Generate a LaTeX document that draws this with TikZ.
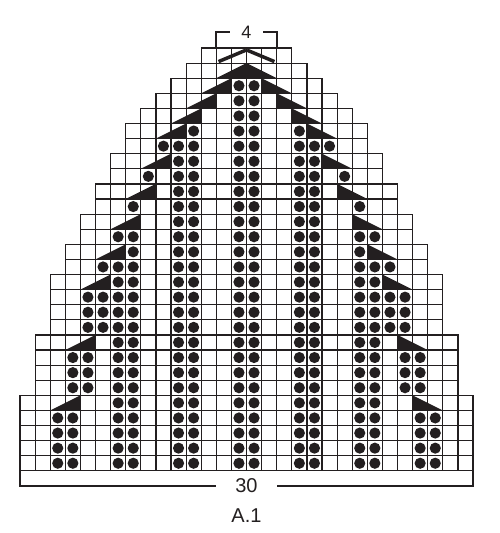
\documentclass[tikz,border=0pt]{standalone}
\usepackage{fontspec}
\setmainfont{Liberation Sans}
\usepackage{tikz}
\usetikzlibrary{calc}
\definecolor{ink}{RGB}{35,31,32}
\tikzset{%
	cell/.style      = {draw=ink, line width=1.2pt},
	purl/.style      = {fill=ink},
	dec/.style       = {fill=ink},
	brace/.style     = {draw=ink, line width=2.1pt},
	chartlabel/.style= {font=\fontsize{20}{24}\selectfont, text=ink, inner ysep=0pt},
}

\begin{document}
\begin{tikzpicture}[x=1pt,y=-1pt]
		\useasboundingbox (0,0) rectangle (500,533);
		\begin{scope}[shift={(20,48)},x=15.1pt,y=-15.1pt]
		% grid, row by row (first column of each row)
		\foreach \r/\l [evaluate=\l as \rr using int(29-\l)] in {0/12,1/11,2/10,3/9,4/8,5/7,6/7,7/6,8/6,9/5,10/5,11/4,12/4,13/3,14/3,15/2,16/2,17/2,18/2,19/1,20/1,21/1,22/1,23/0,24/0,25/0,26/0,27/0}
			\foreach \c in {\l,...,\rr} \draw[cell] (\c,\r) rectangle +(1,1);
		
		% purl dots, left half and mirrored
		\foreach \r/\cols in {2/{14},3/{14},4/{14},5/{11,14},6/{9,10,11,14},7/{10,11,14},8/{8,10,11,14},9/{10,11,14},10/{7,10,11,14},11/{10,11,14},12/{6,7,10,11,14},13/{7,10,11,14},14/{5,6,7,10,11,14},15/{6,7,10,11,14},16/{4,5,6,7,10,11,14},17/{4,5,6,7,10,11,14},18/{4,5,6,7,10,11,14},19/{6,7,10,11,14},20/{3,4,6,7,10,11,14},21/{3,4,6,7,10,11,14},22/{3,4,6,7,10,11,14},23/{6,7,10,11,14},24/{2,3,6,7,10,11,14},25/{2,3,6,7,10,11,14},26/{2,3,6,7,10,11,14},27/{2,3,6,7,10,11,14}}
			\foreach \c in \cols {
				\fill[purl] (\c+0.5,\r+0.5) circle[radius=0.37];
				\fill[purl] (29.5-\c,\r+0.5) circle[radius=0.37];
			}
		
		% decreases
		\foreach \r/\a in {1/13,2/12,3/11,4/10,5/9,7/8,9/7,11/6,13/5,15/4,19/3,23/2} {
			\fill[dec] (\a,\r+1) -- (\a+2,\r+1) -- (\a+2,\r) -- cycle;
			\fill[dec] (30-\a,\r+1) -- (28-\a,\r+1) -- (28-\a,\r) -- cycle;
		}
		\draw[ink,line width=3.5pt] (13.15,0.9) -- (14.97,0.14);
		\draw[ink,line width=3.5pt] (15.03,0.14) -- (16.85,0.9);
		
		% widths
		\node[chartlabel,font=\fontsize{18}{22}\selectfont,inner xsep=11pt] (w4) at (15,-1.05) {4};
		\draw[brace] (13,-0.08) |- (w4.west);
		\draw[brace] (17,-0.08) |- (w4.east);
		
		\node[chartlabel,inner xsep=19pt] (w30) at (15,29) {30};
		\draw[brace] (0,28) |- (w30.west);
		\draw[brace] (30,28) |- (w30.east);
		
		\node[chartlabel] (a1) at (15,30.98) {A.1};
		\end{scope}
\end{tikzpicture}
\end{document}
